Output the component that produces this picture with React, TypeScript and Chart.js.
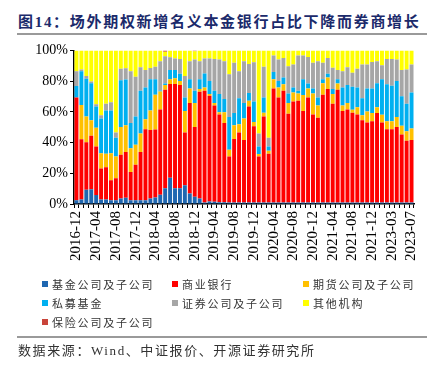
import React, { useEffect, useRef } from "react";
import { Chart, registerables } from "chart.js";

Chart.register(...registerables);

const categories = [
  "2016-12",
  "2017-01", "2017-02", "2017-03", "2017-04", "2017-05", "2017-06", "2017-07", "2017-08", "2017-09", "2017-10", "2017-11", "2017-12",
  "2018-01", "2018-02", "2018-03", "2018-04", "2018-05", "2018-06", "2018-07", "2018-08", "2018-09", "2018-10", "2018-11", "2018-12",
  "2019-01", "2019-02", "2019-03", "2019-04", "2019-05", "2019-06", "2019-07", "2019-08", "2019-09", "2019-10", "2019-11", "2019-12",
  "2020-01", "2020-02", "2020-03", "2020-04", "2020-05", "2020-06", "2020-07", "2020-08", "2020-09", "2020-10", "2020-11", "2020-12",
  "2021-01", "2021-02", "2021-03", "2021-04", "2021-05", "2021-06", "2021-07", "2021-08", "2021-09", "2021-10", "2021-11", "2021-12",
  "2022-12", "2023-01", "2023-02", "2023-03", "2023-04", "2023-05", "2023-06", "2023-07",
];

const fundCo = [
  2.5, 3, 9.2, 9.6, 5.8, 3, 3, 2.5, 2.5, 3.5,
  4, 2.5, 2.5, 2.5, 2.5, 3.6, 4.3, 6, 10.3, 17.1,
  10.3, 10.3, 12.2, 6.8, 4.7, 3.6, 1, 1.7, 1.5, 1.2,
  1.2, 1, 1, 1, 1, 1, 1, 1, 1, 1,
  1, 1, 1, 1, 1, 1, 1, 1, 1, 1,
  1, 1, 1, 1, 1, 1, 1, 1, 1, 1,
  1, 1, 1, 1, 1, 1, 1, 1, 1,
];
const banks = [
  66.9, 39.1, 31, 34.8, 31.6, 20.1, 20.9, 12.9, 14.2, 28.5,
  29.8, 18.4, 23.1, 31.3, 46.2, 44.5, 44.2, 55.5, 64.1, 61.1,
  67.9, 67.1, 34.4, 59, 45.5, 69.5, 72.7, 68.8, 62.6, 57.1,
  51.6, 30, 41.3, 45.6, 40.7, 62.5, 49.6, 30, 56, 31.7,
  74.2, 68.4, 72.7, 57.8, 65.7, 66.3, 59.5, 68.4, 57.3, 55.2,
  70.2, 73.8, 64.2, 73.4, 59.5, 60.5, 58.4, 57.3, 53.5, 52,
  52.8, 58.2, 52, 47.7, 47.7, 49.2, 44.3, 40.2, 40.7,
];
const futuresCo = [
  0, 22.4, 16.8, 10.1, 12.2, 10, 8.8, 17.7, 14.3, 18.2,
  17.5, 15.4, 12.9, 12.1, 6.4, 12.8, 22.7, 11.8, 3, 3,
  3.6, 2.7, 13.9, 9.4, 15.6, 1.7, 2.2, 1.1, 1.7, 1.5,
  7, 4.3, 9, 5.3, 13.9, 3.8, 2.8, 1.5, 2.4, 1.9,
  6, 6.5, 4.3, 7, 5.9, 4.7, 10.5, 5.8, 13.7, 7.9,
  7.4, 7.5, 6.4, 4, 3.6, 4.3, 1.9, 4.7, 3.2, 7.3,
  5.4, 3.8, 5.1, 5.1, 5.1, 6.4, 5.6, 6.2, 7.4,
];
const privateFunds = [
  7.5, 22, 24.6, 24.1, 13.9, 22.5, 28.2, 27.8, 12.2, 30.4,
  29.7, 16.5, 18.5, 27.8, 20.8, 20.3, 10, 0.6, 1, 6,
  5.4, 4.7, 8.9, 6, 7.9, 6.4, 9.1, 8.5, 7.9, 11.8,
  8.6, 21.3, 7.9, 16.9, 10.2, 4.9, 13.3, 4.9, 10, 2.8,
  4.7, 4.2, 4.3, 6.2, 3.3, 1.7, 10.2, 3.2, 3.2, 5.3,
  2.6, 2.5, 3.2, 2.8, 11.8, 11.6, 15, 12.9, 11.1, 14.9,
  16, 15.6, 23.1, 24.2, 23.2, 23.5, 19.2, 17.8, 23.5,
];
const securitiesCo = [
  9.6, 1, 1.7, 1.1, 1.5, 2.1, 4.3, 5.3, 3.4, 7.4,
  7.3, 33.7, 25.9, 15.4, 11.3, 7.3, 8.1, 19.1, 17.8, 8.3,
  7.5, 9.6, 13.9, 11.8, 20.3, 11.8, 9.7, 14.6, 20.7, 22.4,
  24.6, 27.8, 32.8, 17.7, 27.2, 19, 25.6, 8.5, 19.9, 5.8,
  10.7, 13.9, 12.8, 17.7, 14.9, 22.9, 15.4, 17.3, 16.7, 23.6,
  10.7, 10.3, 13.9, 6, 10.6, 11.7, 9.2, 12.1, 22, 15.6,
  17.3, 14.4, 9.2, 16.4, 17.4, 13.9, 17.1, 22.4, 18.2,
];
const others = [
  13.5, 12.5, 16.7, 20.3, 35, 42.3, 34.8, 33.8, 53.4, 12,
  11.7, 13.5, 17.1, 10.9, 12.8, 11.5, 10.7, 7, 3, 4.5,
  5.3, 5.6, 16.7, 7, 5.4, 7, 5.3, 5.3, 5.6, 6,
  7, 15.6, 8, 13.5, 7, 8.8, 7.7, 54.1, 10.7, 56.8,
  3.4, 6, 4.9, 10.3, 9.2, 3.4, 3.4, 4.3, 8.1, 7,
  8.1, 4.9, 11.3, 12.8, 13.5, 10.9, 14.5, 12, 9.2, 9.2,
  7.5, 7, 9.6, 5.6, 5.6, 6, 12.8, 12.4, 9.2,
];
const insuranceCo = [
  0, 0, 0, 0, 0, 0, 0, 0, 0, 0,
  0, 0, 0, 0, 0, 0, 0, 0, 0.8, 0,
  0, 0, 0, 0, 0.6, 0, 0, 0, 0, 0,
  0, 0, 0, 0, 0, 0, 0, 0, 0, 0,
  0, 0, 0, 0, 0, 0, 0, 0, 0, 0,
  0, 0, 0, 0, 0, 0, 0, 0, 0, 0,
  0, 0, 0, 0, 0, 0, 0, 0, 0,
];

const seriesNames = [
  "基金公司及子公司",
  "商业银行",
  "期货公司及子公司",
  "私募基金",
  "证券公司及子公司",
  "其他机构",
  "保险公司及子公司",
];
const seriesColors = ["#1F67B1", "#FF0000", "#FFC000", "#00B0F0", "#A6A6A6", "#FFFF00", "#C9443A"];
const yTicks = [0, 20, 40, 60, 80, 100];

const CANVAS_TOP = 40;
const CANVAS_H = 245;

export default function App() {
  const ref = useRef<HTMLCanvasElement | null>(null);

  useEffect(() => {
    if (!ref.current) return;
    const seriesData = [fundCo, banks, futuresCo, privateFunds, securitiesCo, others, insuranceCo];
    const chart = new Chart(ref.current, {
      type: "bar",
      data: {
        labels: categories,
        datasets: seriesData.map((d, i) => ({
          label: seriesNames[i],
          data: d,
          backgroundColor: seriesColors[i],
          borderWidth: 0,
          barPercentage: 0.8,
          categoryPercentage: 1.0,
        })),
      },
      options: {
        responsive: false,
        animation: false,
        layout: { padding: { left: 0, right: 25, top: 7, bottom: 0 } },
        plugins: { legend: { display: false }, tooltip: { enabled: false } },
        scales: {
          x: {
            stacked: true,
            grid: {
              display: true,
              drawOnChartArea: false,
              drawTicks: true,
              tickLength: 4,
              color: "#000",
              lineWidth: 1,
              offset: true,
            },
            border: { display: true, color: "#000", width: 1.5 },
            ticks: {
              autoSkip: false,
              maxRotation: 90,
              minRotation: 90,
              padding: 3,
              color: "#000",
              font: { family: "'Liberation Serif', 'Times New Roman', serif", size: 15 },
              callback: (_v: any, i: number) => (i % 4 === 0 ? categories[i] : ""),
            },
            afterFit: (scale: any) => {
              scale.height = CANVAS_H - (204 - CANVAS_TOP);
            },
          },
          y: {
            stacked: true,
            min: 0,
            max: 100,
            afterBuildTicks: (scale: any) => {
              scale.ticks = yTicks.map((v) => ({ value: v }));
            },
            grid: {
              display: true,
              drawOnChartArea: false,
              drawTicks: true,
              tickLength: 4,
              color: "#000",
            },
            border: { display: true, color: "#000", width: 1.5 },
            ticks: {
              padding: 2,
              color: "#000",
              font: { family: "'Liberation Serif', 'Times New Roman', serif", size: 14 },
              callback: (v: any) => v + "%",
            },
            afterFit: (scale: any) => {
              scale.width = 74;
            },
          },
        },
      },
    });
    return () => chart.destroy();
  }, []);

  const legendCols = [42, 172, 303];
  const legendRows = [284, 303, 322];

  return (
    <div style={{ position: "absolute", left: 0, top: 0, width: 439, height: 365, background: "#fff", overflow: "hidden" }}>
      <div
        style={{
          position: "absolute",
          left: 18,
          top: 12,
          fontFamily: "'Liberation Serif', 'Noto Sans CJK SC', serif",
          fontWeight: "bold",
          fontSize: 15,
          letterSpacing: "1.7px",
          color: "#1B2A6B",
          whiteSpace: "nowrap",
          lineHeight: "20px",
        }}
      >
        图14：场外期权新增名义本金银行占比下降而券商增长
      </div>
      <div style={{ position: "absolute", left: 17, top: 33, width: 410, height: 2, background: "#9A9A9A" }} />
      <canvas
        ref={ref}
        width={439}
        height={CANVAS_H}
        style={{ position: "absolute", left: 0, top: CANVAS_TOP, width: 439, height: CANVAS_H }}
      />
      {seriesNames.map((name, i) => {
        const col = legendCols[i % 3];
        const row = legendRows[Math.floor(i / 3)];
        return (
          <div key={name} style={{ position: "absolute", left: col, top: row - 9, height: 18, display: "flex", alignItems: "center", whiteSpace: "nowrap" }}>
            <span style={{ display: "inline-block", width: 6, height: 6, background: seriesColors[i], marginRight: 4 }} />
            <span style={{ fontFamily: "'Noto Sans CJK SC', sans-serif", fontSize: 11, letterSpacing: "1.8px", color: "#333", lineHeight: "18px" }}>{name}</span>
          </div>
        );
      })}
      <div style={{ position: "absolute", left: 17, top: 336, width: 410, height: 2, background: "#9A9A9A" }} />
      <div
        style={{
          position: "absolute",
          left: 18,
          top: 342,
          fontFamily: "'Liberation Serif', 'Noto Sans CJK SC', serif",
          fontSize: 13,
          letterSpacing: "1.6px",
          color: "#333",
          whiteSpace: "nowrap",
          lineHeight: "18px",
        }}
      >
        数据来源：Wind、中证报价、开源证券研究所
      </div>
    </div>
  );
}
